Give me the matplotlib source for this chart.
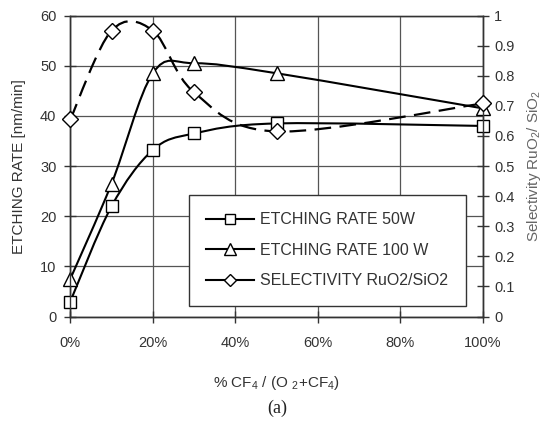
import numpy as np
import matplotlib
matplotlib.use("Agg")
import matplotlib.pyplot as plt
from matplotlib.path import Path
from matplotlib.patches import PathPatch
from matplotlib.lines import Line2D

plt.rcParams['font.family'] = ['Liberation Sans', 'DejaVu Sans']
plt.rcParams['mathtext.fontset'] = 'custom'
plt.rcParams['mathtext.rm'] = 'Liberation Sans'

# --- data ---
cf4_pct = [0, 10, 20, 30, 50, 100]
rate_50w = [3.0, 22.0, 33.2, 36.5, 38.5, 38.0]
rate_100w = [7.5, 26.5, 48.5, 50.5, 48.5, 41.5]
selectivity = [0.655, 0.95, 0.95, 0.745, 0.615, 0.708]

x_ticks = [0, 20, 40, 60, 80, 100]
x_tick_labels = ["0%", "20%", "40%", "60%", "80%", "100%"]
left_ticks = [0, 10, 20, 30, 40, 50, 60]
right_ticks = [0, 0.1, 0.2, 0.3, 0.4, 0.5, 0.6, 0.7, 0.8, 0.9, 1.0]
right_tick_labels = ["0", "0.1", "0.2", "0.3", "0.4", "0.5", "0.6", "0.7", "0.8", "0.9", "1"]
legend_labels = ["ETCHING RATE 50W", "ETCHING RATE 100 W", "SELECTIVITY RuO2/SiO2"]

TXT = '#333333'


def smooth_path(xs, ys):
    # spreadsheet-style smoothed line: Catmull-Rom segments as cubic Beziers
    pts = np.column_stack([xs, ys]).astype(float)
    n = len(pts)
    verts = [pts[0]]
    codes = [Path.MOVETO]
    for i in range(n - 1):
        p0 = pts[i - 1] if i > 0 else pts[i]
        p1, p2 = pts[i], pts[i + 1]
        p3 = pts[i + 2] if i + 2 < n else pts[i + 1]
        verts += [p1 + (p2 - p0) / 6.0, p2 - (p3 - p1) / 6.0, p2]
        codes += [Path.CURVE4] * 3
    return Path(verts, codes)


fig = plt.figure(figsize=(5.45, 4.21), dpi=100)
ax = fig.add_axes([0.129, 0.248, 0.757, 0.715])
ax2 = ax.twinx()

mk = dict(ls='none', mfc='white', mec='black', mew=1.0, zorder=5, clip_on=False)

# left axis series
ax.add_patch(PathPatch(smooth_path(cf4_pct, rate_50w), fill=False, lw=1.5, ec='black', zorder=3))
ax.add_patch(PathPatch(smooth_path(cf4_pct, rate_100w), fill=False, lw=1.5, ec='black', zorder=3))
ax.plot(cf4_pct, rate_50w, marker='s', ms=9, **mk)
ax.plot(cf4_pct, rate_100w, marker='^', ms=10, **mk)

# right axis series
ax2.add_patch(PathPatch(smooth_path(cf4_pct, selectivity), fill=False, lw=1.6, ec='black',
                        ls=(0, (7.5, 3.8)), zorder=3))
ax2.plot(cf4_pct, selectivity, marker='D', ms=8.5, **mk)

ax.set_xlim(0, 100)
ax.set_ylim(0, 60)
ax2.set_ylim(0, 1)
ax.set_xticks(x_ticks)
ax.set_xticklabels(x_tick_labels)
ax.set_yticks(left_ticks)
ax2.set_yticks(right_ticks)
ax2.set_yticklabels(right_tick_labels)

ax.grid(True, color='#555555', lw=0.9)
for a in (ax, ax2):
    for s in a.spines.values():
        s.set_color('#333333')
        s.set_linewidth(1.0)
    a.tick_params(direction='inout', length=8, width=1.0, color='#333333',
                  labelsize=10.5, labelcolor=TXT)
ax.tick_params(axis='x', pad=10)
ax.tick_params(axis='y', pad=6)
ax2.tick_params(axis='y', pad=4)
ax.spines['top'].set_color('#777777')

ax.set_ylabel("ETCHING RATE [nm/min]", fontsize=11, color=TXT, labelpad=10)
ax2.set_ylabel(r"Selectivity RuO$_\mathregular{2}$/ SiO$_\mathregular{2}$", fontsize=11,
               color='#666666', rotation=90, labelpad=8)
ax.set_xlabel(r"% CF$_\mathregular{4}$ / (O $_\mathregular{2}$+CF$_\mathregular{4}$)",
              fontsize=11, color=TXT, labelpad=17)
fig.text(0.508, 0.031, "(a)", family='Liberation Serif', fontsize=13, ha='center', va='center',
         color='#222222')

handles = [
    Line2D([], [], color='black', lw=1.5, marker='s', ms=7, mfc='white', mec='black'),
    Line2D([], [], color='black', lw=1.5, marker='^', ms=8, mfc='white', mec='black'),
    Line2D([], [], color='black', lw=1.5, marker='D', ms=6.5, mfc='white', mec='black'),
]
leg = ax2.legend(handles, legend_labels, loc='lower right', bbox_to_anchor=(0.959, 0.035),
                 borderaxespad=0, fontsize=11.5, frameon=True, fancybox=False,
                 edgecolor='#333333', framealpha=1, labelspacing=0.98, handlelength=3.0,
                 borderpad=1.1, handletextpad=0.4, labelcolor=TXT)
leg.get_frame().set_linewidth(1.0)

fig.savefig("out.png", dpi=100)
